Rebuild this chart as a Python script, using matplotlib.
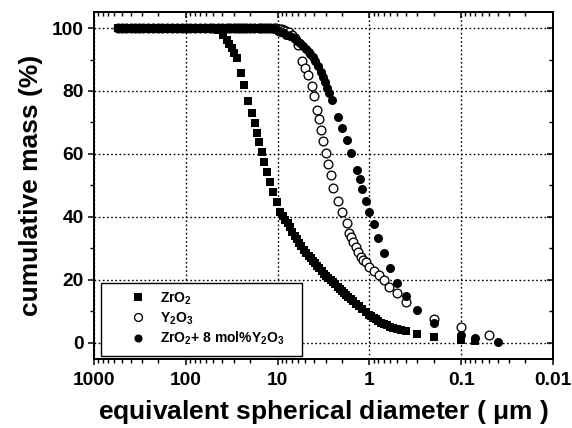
import matplotlib
matplotlib.use("Agg")
import matplotlib.pyplot as plt
from matplotlib.ticker import FixedLocator, NullFormatter, LogLocator
from matplotlib.patches import Rectangle

plt.rcParams['font.family'] = ['Liberation Sans', 'DejaVu Sans']
plt.rcParams['font.weight'] = 'bold'
plt.rcParams['mathtext.fontset'] = 'custom'
plt.rcParams['mathtext.rm'] = 'Liberation Sans:bold'
plt.rcParams['mathtext.it'] = 'Liberation Sans:bold'
plt.rcParams['mathtext.bf'] = 'Liberation Sans:bold'

plateau_d = [550, 500, 450, 400, 360, 320, 290, 260, 230, 200, 180, 160, 140,
             125, 110, 100, 90, 80, 70, 62, 55]

zro2_d = plateau_d + [50, 45, 39.4, 36, 33.5, 31.4, 29.5, 27.7, 25, 23.2, 21, 19,
                      17.6, 16.7, 16.0, 14.8, 14.1, 13, 12.1, 11.2, 10.2, 9.4, 8.8,
                      8.3, 7.8, 7.3, 6.9, 6.5, 6.15, 5.8, 5.5, 5.2, 4.9, 4.6, 4.35,
                      4.1, 3.9, 3.7, 3.5, 3.3, 3.1, 2.95, 2.8, 2.65, 2.5, 2.35, 2.2,
                      2.1, 2.0, 1.9, 1.8, 1.7, 1.6, 1.5, 1.4, 1.3, 1.2, 1.1, 1.0,
                      0.95, 0.9, 0.85, 0.8, 0.75, 0.7, 0.65, 0.6, 0.55, 0.5, 0.45,
                      0.4, 0.3, 0.2, 0.1, 0.07]
zro2_mass = [100] * 21 + [100, 99.4, 97.8, 96.3, 95.0, 93.7, 92.2, 90.5, 85.8, 81.9,
                          76.9, 73.0, 69.9, 66.7, 63.8, 60.6, 57.4, 54.3, 51.1, 47.9,
                          44.7, 41.6, 40.2, 39.0, 37.9, 36.8, 35.3, 34.0, 32.8, 31.6,
                          30.6, 29.6, 28.5, 27.5, 26.8, 26.0, 25.2, 24.4, 23.6, 22.7,
                          21.8, 21.2, 20.6, 19.9, 19.2, 18.5, 17.6, 17.0, 16.4, 15.8,
                          15.3, 14.6, 13.9, 13.1, 12.3, 11.5, 10.6, 9.7, 8.9, 8.4,
                          7.9, 7.4, 6.9, 6.4, 5.9, 5.5, 5.1, 4.7, 4.3, 4.0, 3.7, 2.8,
                          1.8, 0.9, 0.5]

y2o3_d = plateau_d + [50, 45, 40, 36, 33, 30, 28, 26, 24, 22, 20, 18, 16, 15, 14, 13,
                      12, 11, 10.5, 10, 9.5, 9, 8.5, 8, 7.5, 7, 6.5, 6.0, 5.4, 5.0,
                      4.7, 4.2, 4.0, 3.7, 3.55, 3.37, 3.2, 2.97, 2.82, 2.62, 2.49,
                      2.2, 1.99, 1.75, 1.67, 1.59, 1.51, 1.40, 1.33, 1.24, 1.17,
                      1.09, 1.0, 0.89, 0.79, 0.69, 0.61, 0.5, 0.4, 0.2, 0.1, 0.05]
y2o3_mass = [100] * 38 + [100, 99.9, 99.8, 99.7, 99.6, 99.4, 99.1, 98.6, 97.9, 96.8,
                          94.7, 89.6, 87.3, 85.1, 81.6, 78.4, 74.0, 71.1, 67.6, 64.2,
                          60.3, 56.8, 53.3, 49.2, 45.0, 41.6, 38.1, 34.9, 33.6, 32.0,
                          30.4, 28.8, 27.2, 26.4, 25.7, 24.1, 22.8, 21.5, 19.9, 17.7,
                          15.8, 12.9, 7.5, 4.9, 2.4]

mix_d = plateau_d + [50, 45, 40, 36, 33, 30, 28, 26, 24, 22, 20, 18, 16, 15, 14, 13,
                     12, 11, 10, 9.3, 8.6, 8, 7.3, 6.7, 6.2, 5.7, 5.3, 4.9, 4.6, 4.4,
                     4.15, 3.9, 3.63, 3.4, 3.2, 3.05, 2.9, 2.75, 2.55, 2.2, 2.0, 1.75,
                     1.58, 1.36, 1.26, 1.2, 1.09, 1.0, 0.89, 0.8, 0.7, 0.6, 0.5, 0.4,
                     0.3, 0.2, 0.1, 0.07, 0.04]
mix_mass = [100] * 38 + [99.7, 99.2, 98.8, 98.3, 97.9, 97.4, 96.7, 96.0, 95.2, 94.3,
                         93.3, 92.5, 91.9, 90.9, 89.6, 88.0, 86.0, 84.4, 82.9, 81.0,
                         79.2, 77.2, 71.8, 68.2, 64.4, 60.3, 54.9, 52.1, 48.9, 45.1,
                         41.4, 37.6, 33.2, 28.5, 23.8, 19.1, 14.7, 10.4, 6.3, 2.4,
                         1.5, 0.2]

x_ticks = [1000, 100, 10, 1, 0.1, 0.01]
x_tick_labels = ['1000', '100', '10', '1', '0.1', '0.01']
y_ticks = [0, 20, 40, 60, 80, 100]

fig = plt.figure(figsize=(5.72, 4.28), dpi=100)
ax = fig.add_axes([94 / 572, 1 - 359 / 428, 459 / 572, 347 / 428])

ax.plot(zro2_d, zro2_mass, linestyle='none', marker='s', markersize=6.0,
        color='black', markeredgewidth=0, label=r'ZrO$_2$', zorder=3)
ax.plot(y2o3_d, y2o3_mass, linestyle='none', marker='o', markersize=6.3,
        markerfacecolor='white', markeredgecolor='black', markeredgewidth=0.95,
        label=r'Y$_2$O$_3$', zorder=3)
ax.plot(mix_d, mix_mass, linestyle='none', marker='o', markersize=6.5,
        color='black', markeredgewidth=0, label=r'ZrO$_2$+ 8 mol%Y$_2$O$_3$', zorder=3)

ax.set_xscale('log')
ax.set_xlim(1000, 0.01)
ax.set_ylim(-5.2, 105.1)
ax.set_xticks(x_ticks)
ax.set_xticklabels(x_tick_labels)
ax.xaxis.set_minor_locator(LogLocator(base=10, subs=range(2, 10), numticks=20))
ax.xaxis.set_minor_formatter(NullFormatter())
ax.set_yticks(y_ticks)
ax.yaxis.set_minor_locator(FixedLocator([-10, 10, 30, 50, 70, 90]))

ax.grid(True, which='major', color='black', linestyle=(0, (1.2, 1.8)), linewidth=1.0)
ax.set_axisbelow(True)

for s in ax.spines.values():
    s.set_linewidth(1.3)

ax.tick_params(which='major', direction='out', length=4.5, width=1.1,
               labelsize=13.8, pad=3)
ax.tick_params(axis='x', which='major', pad=5)
ax.tick_params(which='minor', direction='out', length=2.8, width=1.0)
for lab in ax.get_xticklabels() + ax.get_yticklabels():
    lab.set_fontweight('bold')

# mirrored top / right ticks pointing inward
axt = ax.twiny()
axt.set_xscale('log')
axt.set_xlim(1000, 0.01)
axt.set_xticks(x_ticks)
axt.xaxis.set_minor_locator(LogLocator(base=10, subs=range(2, 10), numticks=20))
axt.xaxis.set_minor_formatter(NullFormatter())
axt.tick_params(which='major', direction='in', length=4.5, width=1.1, labeltop=False)
axt.tick_params(which='minor', direction='in', length=2.8, width=1.0)
axr = ax.twinx()
axr.set_ylim(-5.2, 105.1)
axr.set_yticks(y_ticks)
axr.yaxis.set_minor_locator(FixedLocator([10, 30, 50, 70, 90]))
axr.tick_params(which='major', direction='in', length=4.5, width=1.1, labelright=False)
axr.tick_params(which='minor', direction='in', length=2.8, width=1.0)
for a in (axt, axr):
    for s in a.spines.values():
        s.set_linewidth(1.3)

ax.set_xlabel(r'equivalent spherical diameter ( $\mathrm{\mu}$m )', fontsize=19,
              fontweight='bold', labelpad=6.5)
ax.set_ylabel('cumulative mass (%)', fontsize=19, fontweight='bold', labelpad=6)

# legend frame
frame = Rectangle((0.01525, 0.00865), 0.438, 0.2104, transform=ax.transAxes,
                  facecolor='white', edgecolor='black', linewidth=1.0, zorder=4)
ax.add_patch(frame)

leg = ax.legend(loc='upper left', bbox_to_anchor=(0.0806, 0.198),
                frameon=False, prop={'weight': 'bold', 'size': 10},
                markerscale=0.9, handlelength=1.0, handletextpad=1.1,
                labelspacing=0.25, borderpad=0, borderaxespad=0)
leg.set_zorder(5)

fig.savefig('out.png', dpi=100)
